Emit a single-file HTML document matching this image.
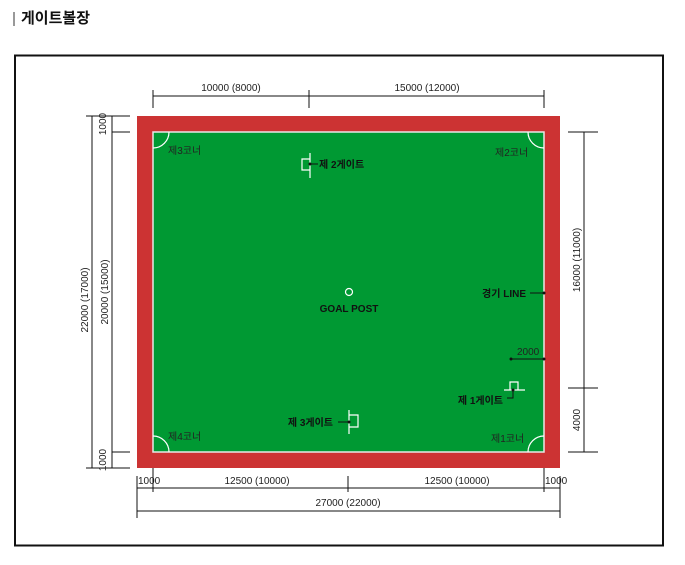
<!DOCTYPE html>
<html><head><meta charset="utf-8"><style>
body{margin:0;background:#fff;}
svg{display:block;font-family:"Liberation Sans","Noto Sans CJK KR",sans-serif;}
</style></head><body>
<svg width="685" height="565" viewBox="0 0 685 565" xmlns="http://www.w3.org/2000/svg">
<rect x="13" y="12" width="2" height="14" fill="#999"/>
<text x="21" y="23" font-size="15" font-weight="bold" fill="#111">게이트볼장</text>
<rect x="15" y="55.5" width="648" height="490" fill="none" stroke="#111" stroke-width="2"/>
<rect x="137" y="116" width="423" height="352" fill="#cc3333"/>
<rect x="153" y="132" width="391" height="320" fill="#009933" stroke="#e8e8e8" stroke-width="1.5"/>
<g fill="none" stroke="#fff" stroke-width="1.2">
<path d="M153,148 A16,16 0 0 0 169,132"/>
<path d="M528,132 A16,16 0 0 0 544,148"/>
<path d="M153,436 A16,16 0 0 1 169,452"/>
<path d="M528,452 A16,16 0 0 1 544,436"/>
<path d="M310,153 V178 M310,159 H302 V170 H310"/>
<path d="M349,410 V434 M349,415 H358 V427 H349"/>
<path d="M504,390 H525 M510,390 V382 H518 V390"/>
</g>
<circle cx="349" cy="292" r="3.5" fill="none" stroke="#fff" stroke-width="1.2"/>
<g stroke="#111" stroke-width="1" fill="none">
<path d="M310,164 H318"/>
<path d="M338,422 H349"/>
<path d="M513,390 V398 H507"/>
<path d="M511,359 H544"/>
<path d="M530,293 H544"/>
</g>
<g fill="#111">
<circle cx="310" cy="164" r="1.5"/><circle cx="349" cy="422" r="1.5"/><circle cx="513" cy="390" r="1.5"/>
<circle cx="511" cy="359" r="1.5"/><circle cx="544" cy="359" r="1.5"/><circle cx="544" cy="293" r="1.5"/>
</g>
<g font-size="10" fill="#222">
<text x="168" y="154">제3코너</text>
<text x="495" y="156">제2코너</text>
<text x="168" y="440">제4코너</text>
<text x="491" y="442">제1코너</text>
<text x="517" y="355">2000</text>
</g>
<g font-size="10" font-weight="bold" fill="#111">
<text x="319" y="168">제 2게이트</text>
<text x="333" y="426" text-anchor="end">제 3게이트</text>
<text x="503" y="404" text-anchor="end">제 1게이트</text>
<text x="526" y="297" text-anchor="end">경기 LINE</text>
<text x="349" y="312" text-anchor="middle">GOAL POST</text>
</g>
<g stroke="#111" stroke-width="1" fill="none">
<path d="M153,96 H544 M153,90 V108 M309,90 V108 M544,90 V108"/>
<path d="M92,116 V468 M112,116 V468 M86,116 H130 M112,132 H130 M112,452 H130 M86,468 H130"/>
<path d="M584,132 V452 M568,132 H598 M568,388 H598 M568,452 H598"/>
<path d="M137,488 H560 M137,511 H560 M137,476 V518 M560,476 V518 M153,468 V492 M544,468 V492 M348,476 V492"/>
</g>
<g font-size="10" fill="#222">
<text x="231" y="91" text-anchor="middle">10000 (8000)</text>
<text x="427" y="91" text-anchor="middle">15000 (12000)</text>
<text x="138" y="484">1000</text>
<text x="257" y="484" text-anchor="middle">12500 (10000)</text>
<text x="457" y="484" text-anchor="middle">12500 (10000)</text>
<text x="545" y="484">1000</text>
<text x="348" y="506" text-anchor="middle">27000 (22000)</text>
<text transform="translate(88,300) rotate(-90)" text-anchor="middle">22000 (17000)</text>
<text transform="translate(108,292) rotate(-90)" text-anchor="middle">20000 (15000)</text>
<text transform="translate(106,124) rotate(-90)" text-anchor="middle">1000</text>
<text transform="translate(106,460) rotate(-90)" text-anchor="middle">1000</text>
<text transform="translate(580,260) rotate(-90)" text-anchor="middle">16000 (11000)</text>
<text transform="translate(580,420) rotate(-90)" text-anchor="middle">4000</text>
</g>
</svg>
</body></html>
